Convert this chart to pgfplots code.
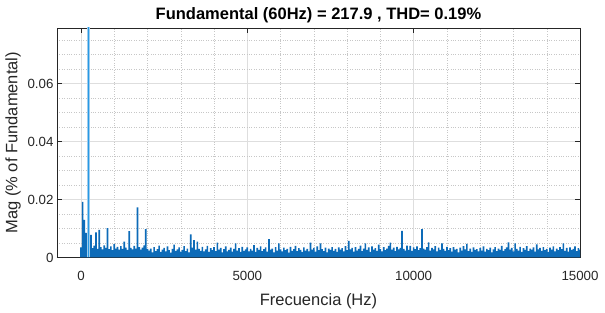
\documentclass[border=0pt]{standalone}
\usepackage{fontspec}
\setmainfont{Liberation Sans}
\usepackage{pgfplots}
\usetikzlibrary{calc}
\pgfplotsset{compat=1.18}
\definecolor{mblue}{rgb}{0.05,0.42,0.72}
\definecolor{lblue}{rgb}{0.62,0.8,0.93}
\definecolor{fblue}{rgb}{0.15,0.6,0.9}
\definecolor{axgray}{rgb}{0.15,0.15,0.15}
\begin{document}
\begin{tikzpicture}
\begin{axis}[
 scale only axis, width=523pt, height=229.5pt,
 xmin=-720, xmax=15000, ymin=0, ymax=0.0792,
 xtick={0,5000,10000,15000}, ytick={0,0.02,0.04,0.06},
 minor xtick={1000,2000,3000,4000,6000,7000,8000,9000,11000,12000,13000,14000},
 minor ytick={0.005,0.01,0.015,0.025,0.03,0.035,0.045,0.05,0.055,0.065,0.07,0.075},
 grid=both,
 major grid style={line width=0.4pt, color=black!13},
 minor grid style={line width=0.4pt, color=black!22, dotted},
 tick align=inside, major tick length=5pt, minor tick length=0pt,
 axis line style={axgray, line width=0.6pt},
 tick style={axgray, line width=0.6pt},
 ticklabel style={font=\fontsize{13.3}{15}\selectfont, text=axgray},
 /pgf/number format/assume math mode=true,
 scaled y ticks=false, yticklabel style={/pgf/number format/fixed, /pgf/number format/precision=2},
 scaled x ticks=false, xticklabel style={/pgf/number format/set thousands separator={}, yshift=-10pt},
 xlabel={Frecuencia (Hz)}, ylabel={Mag (\% of Fundamental)},
 label style={font=\fontsize{16.5}{18}\selectfont, text=axgray},
 xlabel style={yshift=-6pt},
 title={\bfseries Fundamental (60Hz) = 217.9 , THD= 0.19\%},
 title style={font=\fontsize{16.5}{18}\selectfont, text=black, yshift=-4pt},
]
\addplot[ybar, bar width=50, bar shift=0pt, fill=mblue, draw=none] coordinates {
(0,.0035)(50,.0192)(100,.0130)(150,.0085)(200,.0060)(250,.0045)(300,.0078)(350,.0032)(400,.0041)(450,.0087)
(500,.0030)(550,.0095)(600,.0036)(650,.0028)(700,.0042)(750,.0033)(800,.0101)(850,.0029)(900,.0038)(950,.0025)
(1000,.0046)(1050,.0031)(1100,.0037)(1150,.0027)(1200,.0039)(1250,.0030)(1300,.0055)(1350,.0034)(1400,.0026)(1450,.0091)
(1500,.0033)(1550,.0028)(1600,.0040)(1650,.0031)(1700,.0173)(1750,.0036)(1800,.0027)(1850,.0034)(1900,.0042)(1950,.0098)
(2000,.0030)(2050,.0024)(2100,.0031)(2150,.0018)(2200,.0036)(2250,.0022)(2300,.0029)(2350,.0041)(2400,.0019)(2450,.0027)
(2500,.0033)(2550,.0021)(2600,.0038)(2650,.0025)(2700,.0017)(2750,.0030)(2800,.0044)(2850,.0023)(2900,.0028)(2950,.0035)
(3000,.0020)(3050,.0026)(3100,.0039)(3150,.0022)(3200,.0031)(3250,.0018)(3300,.0080)(3350,.0034)(3400,.0060)(3450,.0027)
(3500,.0055)(3550,.0030)(3600,.0023)(3650,.0037)(3700,.0021)(3750,.0028)(3800,.0040)(3850,.0019)(3900,.0032)(3950,.0025)
(4000,.0036)(4050,.0022)(4100,.0051)(4150,.0027)(4200,.0033)(4250,.0018)(4300,.0029)(4350,.0038)(4400,.0021)(4450,.0026)
(4500,.0034)(4550,.0020)(4600,.0030)(4650,.0049)(4700,.0024)(4750,.0032)(4800,.0019)(4850,.0037)(4900,.0023)(4950,.0028)
(5000,.0035)(5050,.0021)(5100,.0030)(5150,.0024)(5200,.0043)(5250,.0019)(5300,.0033)(5350,.0026)(5400,.0038)(5450,.0022)
(5500,.0029)(5550,.0035)(5600,.0020)(5650,.0063)(5700,.0027)(5750,.0031)(5800,.0018)(5850,.0036)(5900,.0024)(5950,.0049)
(6000,.0028)(6050,.0021)(6100,.0034)(6150,.0025)(6200,.0030)(6250,.0017)(6300,.0037)(6350,.0023)(6400,.0029)(6450,.0040)
(6500,.0022)(6550,.0032)(6600,.0026)(6650,.0019)(6700,.0035)(6750,.0024)(6800,.0030)(6850,.0021)(6900,.0051)(6950,.0027)
(7000,.0033)(7050,.0020)(7100,.0038)(7150,.0025)(7200,.0049)(7250,.0029)(7300,.0022)(7350,.0034)(7400,.0018)(7450,.0031)
(7500,.0026)(7550,.0036)(7600,.0023)(7650,.0030)(7700,.0019)(7750,.0035)(7800,.0027)(7850,.0032)(7900,.0021)(7950,.0039)
(8000,.0025)(8050,.0057)(8100,.0028)(8150,.0033)(8200,.0020)(8250,.0036)(8300,.0024)(8350,.0030)(8400,.0041)(8450,.0022)
(8500,.0031)(8550,.0049)(8600,.0026)(8650,.0035)(8700,.0019)(8750,.0038)(8800,.0027)(8850,.0032)(8900,.0023)(8950,.0044)
(9000,.0029)(9050,.0021)(9100,.0036)(9150,.0025)(9200,.0031)(9250,.0040)(9300,.0051)(9350,.0027)(9400,.0034)(9450,.0022)
(9500,.0037)(9550,.0028)(9600,.0033)(9650,.0092)(9700,.0030)(9750,.0024)(9800,.0041)(9850,.0026)(9900,.0040)(9950,.0023)
(10000,.0035)(10050,.0029)(10100,.0038)(10150,.0025)(10200,.0032)(10250,.0098)(10300,.0031)(10350,.0027)(10400,.0036)(10450,.0052)
(10500,.0024)(10550,.0033)(10600,.0028)(10650,.0039)(10700,.0021)(10750,.0034)(10800,.0026)(10850,.0049)(10900,.0030)(10950,.0023)
(11000,.0037)(11050,.0025)(11100,.0032)(11150,.0020)(11200,.0036)(11250,.0027)(11300,.0030)(11350,.0018)(11400,.0034)(11450,.0024)
(11500,.0039)(11550,.0028)(11600,.0047)(11650,.0022)(11700,.0031)(11750,.0019)(11800,.0035)(11850,.0026)(11900,.0029)(11950,.0021)
(12000,.0033)(12050,.0024)(12100,.0038)(12150,.0020)(12200,.0030)(12250,.0025)(12300,.0034)(12350,.0018)(12400,.0028)(12450,.0036)
(12500,.0022)(12550,.0031)(12600,.0026)(12650,.0040)(12700,.0023)(12750,.0029)(12800,.0035)(12850,.0052)(12900,.0027)(12950,.0033)
(13000,.0021)(13050,.0049)(13100,.0030)(13150,.0024)(13200,.0037)(13250,.0019)(13300,.0032)(13350,.0026)(13400,.0039)(13450,.0022)
(13500,.0031)(13550,.0027)(13600,.0035)(13650,.0020)(13700,.0045)(13750,.0028)(13800,.0033)(13850,.0023)(13900,.0036)(13950,.0025)
(14000,.0030)(14050,.0019)(14100,.0034)(14150,.0027)(14200,.0038)(14250,.0021)(14300,.0031)(14350,.0025)(14400,.0036)(14450,.0029)
(14500,.0049)(14550,.0023)(14600,.0033)(14650,.0020)(14700,.0035)(14750,.0026)(14800,.0030)(14850,.0038)(14900,.0022)(14950,.0032)
(15000,.0027)
};
\addplot[ycomb, lblue, line width=3pt, no marks] coordinates {(220,1)};
\addplot[ycomb, fblue, line width=0.8pt, no marks] coordinates {(220,1)};
\end{axis}
\path (current axis.south west) ++(-57pt,-50.5pt) rectangle ($(current axis.north east)+(25pt,28pt)$);
\end{tikzpicture}
\end{document}
